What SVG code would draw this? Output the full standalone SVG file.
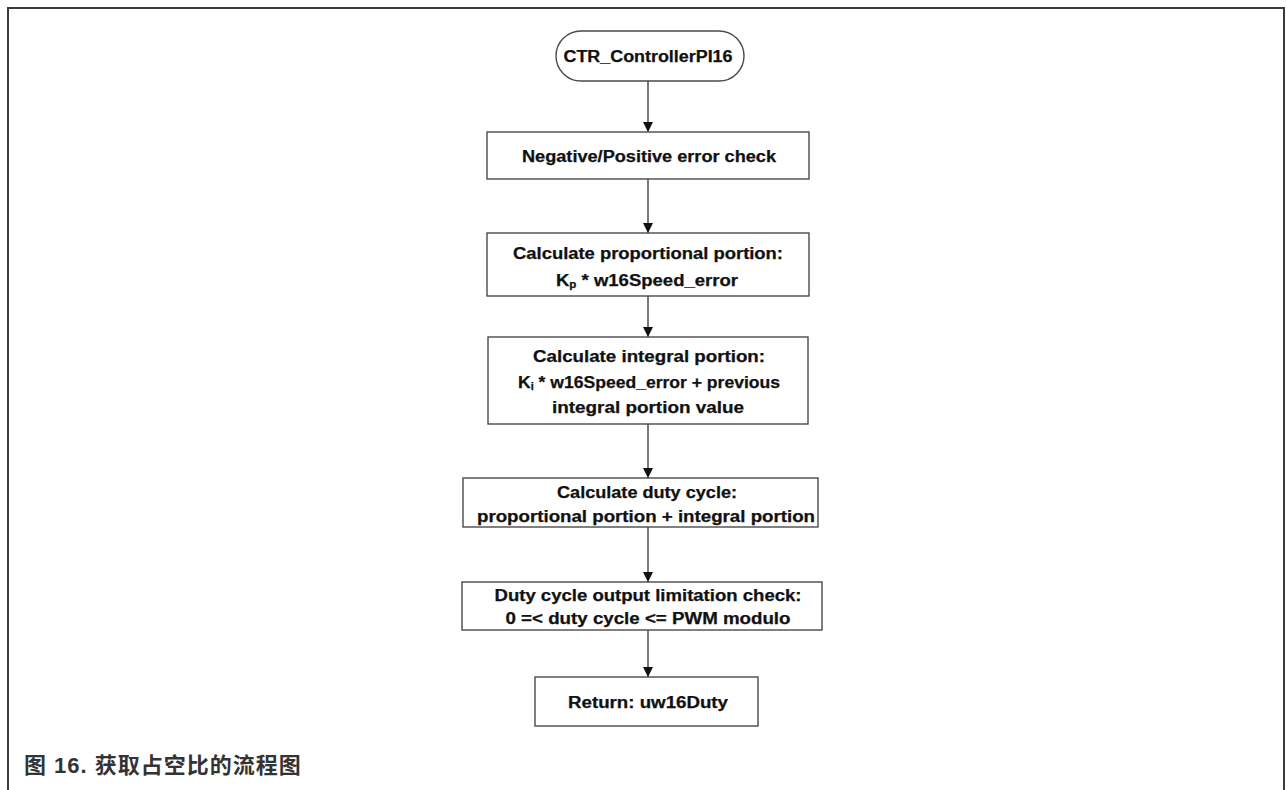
<svg xmlns="http://www.w3.org/2000/svg" width="1286" height="790" viewBox="0 0 1286 790">
  <style>
    .box { fill: #ffffff; stroke: #4a4a4a; stroke-width: 1.4; }
    .lbl { font-family: "Liberation Sans", Arial, sans-serif; font-weight: bold; font-size: 16px; fill: #111111; text-anchor: middle; stroke: #111111; stroke-width: 0.25; }
    .sub { font-size: 10px; }
    .edge { stroke: #333333; stroke-width: 1.3; fill: none; marker-end: url(#arrow); }
    .frame { stroke: #3a3a3a; stroke-width: 2; fill: none; }
    .caption { font-family: "Liberation Sans", Arial, "Noto Sans CJK SC", sans-serif; font-weight: bold; font-size: 22px; letter-spacing: 1px; fill: #333333; }
  </style>
  <defs>
    <marker id="arrow" viewBox="0 0 10 10" refX="10" refY="5" markerWidth="10" markerHeight="10" markerUnits="userSpaceOnUse" orient="auto">
      <path d="M0,0 L10,5 L0,10 Z" fill="#111111"/>
    </marker>
  </defs>

  <rect width="1286" height="790" fill="#ffffff"/>
  <!-- outer frame (open at the bottom) -->
  <path class="frame" d="M8,790 V8 H1284 V790"/>

  <g id="connectors">
    <line class="edge" x1="648" y1="81" x2="648" y2="132"/>
    <line class="edge" x1="648" y1="179" x2="648" y2="233"/>
    <line class="edge" x1="648" y1="296" x2="648" y2="337"/>
    <line class="edge" x1="648" y1="424" x2="648" y2="478"/>
    <line class="edge" x1="648" y1="527" x2="648" y2="582"/>
    <line class="edge" x1="648" y1="630" x2="648" y2="677"/>
  </g>

  <g id="start">
    <rect class="box" x="556" y="31" width="188" height="50" rx="25" ry="25"/>
    <text class="lbl" x="648" y="62" textLength="169" lengthAdjust="spacingAndGlyphs">CTR_ControllerPI16</text>
  </g>

  <g id="error-check">
    <rect class="box" x="487" y="132" width="322" height="47"/>
    <text class="lbl" x="649" y="162" textLength="254" lengthAdjust="spacingAndGlyphs">Negative/Positive error check</text>
  </g>

  <g id="proportional">
    <rect class="box" x="487" y="233" width="322" height="63"/>
    <text class="lbl" x="648" y="259" textLength="270" lengthAdjust="spacingAndGlyphs">Calculate proportional portion:</text>
    <text class="lbl" x="647" y="286" textLength="182" lengthAdjust="spacingAndGlyphs">K<tspan class="sub" dy="2">p</tspan><tspan dy="-2"> * w16Speed_error</tspan></text>
  </g>

  <g id="integral">
    <rect class="box" x="488" y="337" width="320" height="87"/>
    <text class="lbl" x="649" y="362" textLength="232" lengthAdjust="spacingAndGlyphs">Calculate integral  portion:</text>
    <text class="lbl" x="649" y="388" textLength="262" lengthAdjust="spacingAndGlyphs">K<tspan class="sub" dy="2">i</tspan><tspan dy="-2"> * w16Speed_error + previous</tspan></text>
    <text class="lbl" x="648" y="413" textLength="192" lengthAdjust="spacingAndGlyphs">integral  portion value</text>
  </g>

  <g id="duty-cycle">
    <rect class="box" x="463" y="478" width="355" height="49"/>
    <text class="lbl" x="647" y="498" textLength="180" lengthAdjust="spacingAndGlyphs">Calculate duty cycle:</text>
    <text class="lbl" x="646" y="522" textLength="338" lengthAdjust="spacingAndGlyphs">proportional portion + integral  portion</text>
  </g>

  <g id="limit-check">
    <rect class="box" x="462" y="582" width="360" height="48"/>
    <text class="lbl" x="648" y="601" textLength="307" lengthAdjust="spacingAndGlyphs">Duty cycle output limitation check:</text>
    <text class="lbl" x="648" y="624" textLength="285" lengthAdjust="spacingAndGlyphs">0 =&lt; duty cycle &lt;= PWM modulo</text>
  </g>

  <g id="return">
    <rect class="box" x="535" y="677" width="223" height="49"/>
    <text class="lbl" x="648" y="708" textLength="160" lengthAdjust="spacingAndGlyphs">Return: uw16Duty</text>
  </g>

  <text class="caption" x="24" y="773">图 16. 获取占空比的流程图</text>
</svg>
